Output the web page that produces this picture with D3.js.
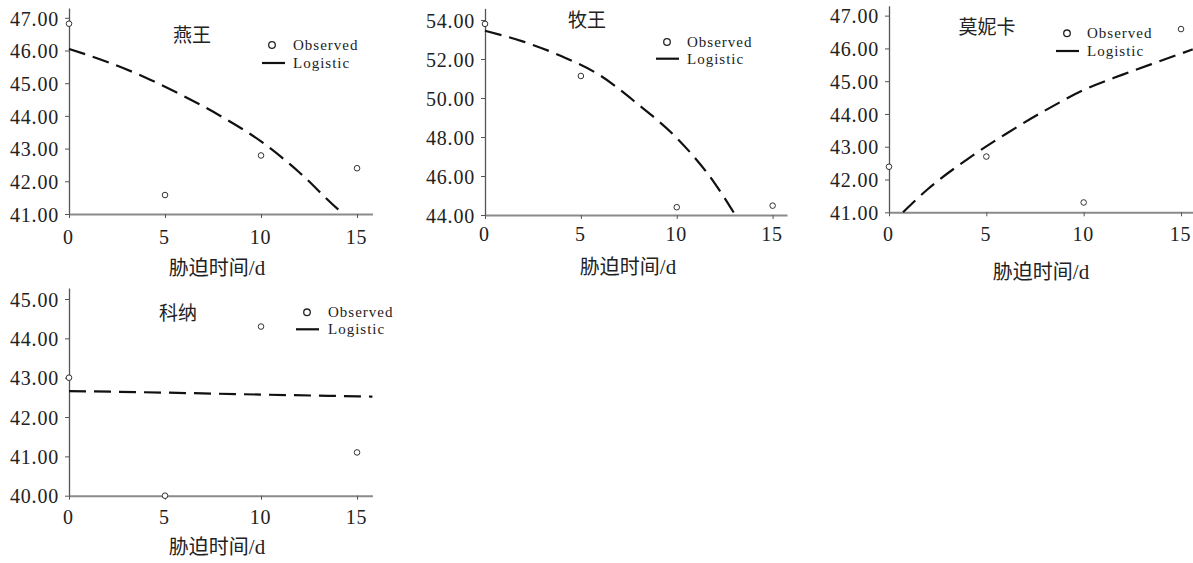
<!DOCTYPE html>
<html><head><meta charset="utf-8">
<script src="https://cdn.jsdelivr.net/npm/d3@7"></script>
<style>
html,body{margin:0;padding:0;background:#fff;}
svg{display:block;}
</style></head>
<body>
<svg id="c" width="1193" height="563"></svg>
<script>
// ---- data ----
const cultivars = ["燕王", "牧王", "莫妮卡", "科纳"];
const times = [0, 5, 10, 15];
const xTicks = [0, 5, 10, 15];
const observedYanwang = [46.82, 41.58, 42.79, 42.40];
const observedMuwang  = [53.80, 51.13, 44.40, 44.48];
const observedMonica  = [42.39, 42.70, 41.30, 46.59];
const observedKona    = [43.00, 40.00, 44.30, 41.10];
const fitYanwangT = [0, 2, 4, 6, 8, 10, 12, 14, 14.3];
const fitYanwang  = [46.05, 45.65, 45.17, 44.60, 43.96, 43.22, 42.27, 41.15, 41.00];
const fitMuwangT  = [0, 2, 4, 6, 8, 10, 12, 13.05];
const fitMuwang   = [53.45, 52.89, 52.14, 51.16, 49.66, 47.95, 45.60, 44.00];
const fitMonicaT  = [0.72, 2, 4, 6, 8, 10, 12, 14, 15.6];
const fitMonica   = [41.00, 41.71, 42.61, 43.39, 44.10, 44.73, 45.20, 45.63, 45.97];
const fitKonaT    = [0, 5, 10, 15.8];
const fitKona     = [42.66, 42.62, 42.57, 42.52];
const yTicksYanwang = [41, 42, 43, 44, 45, 46, 47];
const yTicksMuwang  = [44, 46, 48, 50, 52, 54];
const yTicksMonica  = [41, 42, 43, 44, 45, 46, 47];
const yTicksKona    = [40, 41, 42, 43, 44, 45];
const xTitleCJK = "胁迫时间";
const xTitleUnit = "/d";
const legendLabels = ["Observed", "Logistic"];

// ---- layout ----
const panels = [
  {name: cultivars[0], obs: observedYanwang, ft: fitYanwangT, fv: fitYanwang, yt: yTicksYanwang,
   xd: [0, 15.8], xr: [69, 372.4], yd: [41, 47.3], yr: [214, 8],
   title: [192, 35], xlab: 244, xtit: [217, 275], leg: {cx: 272, cy: 45, lx1: 262, lx2: 285, ly: 63, tx: 293}},
  {name: cultivars[1], obs: observedMuwang, ft: fitMuwangT, fv: fitMuwang, yt: yTicksMuwang,
   xd: [0, 15.75], xr: [485, 787], yd: [44, 54.6], yr: [215, 8.3],
   title: [587, 20], xlab: 241, xtit: [628, 274], leg: {cx: 667, cy: 42, lx1: 656, lx2: 679, ly: 58.7, tx: 687}},
  {name: cultivars[2], obs: observedMonica, ft: fitMonicaT, fv: fitMonica, yt: yTicksMonica,
   xd: [0, 15.6], xr: [889, 1192.7], yd: [41, 47.3], yr: [212.3, 5.8],
   title: [987, 27], xlab: 241, xtit: [1041, 279], leg: {cx: 1067, cy: 33.3, lx1: 1056, lx2: 1079, ly: 51, tx: 1087}},
  {name: cultivars[3], obs: observedKona, ft: fitKonaT, fv: fitKona, yt: yTicksKona,
   xd: [0, 15.8], xr: [69, 372.4], yd: [40, 45.28], yr: [495.7, 288],
   title: [178, 313], xlab: 524, xtit: [217, 554], leg: {cx: 307, cy: 312.3, lx1: 296, lx2: 319, ly: 329.3, tx: 328}}
];

const serif = "'Liberation Serif','Times New Roman',serif";
const svg = d3.select("#c");

panels.forEach(p => {
  const x = d3.scaleLinear().domain(p.xd).range(p.xr);
  const y = d3.scaleLinear().domain(p.yd).range(p.yr);
  const g = svg.append("g");

  // y axis
  const ya = g.append("g").attr("transform", `translate(${p.xr[0]},0)`)
    .call(d3.axisLeft(y).tickValues(p.yt).tickFormat(d3.format(".2f")).tickSize(4).tickSizeOuter(0).tickPadding(6));
  ya.attr("font-family", null).attr("font-size", null);
  ya.select(".domain").attr("stroke", "#555").attr("stroke-width", 1.3);
  ya.selectAll(".tick line").attr("stroke", "#555");
  ya.selectAll(".tick text").attr("dy", "0.36em")
    .style("font-family", serif).style("font-size", "20px").style("letter-spacing", "0.8px").attr("fill", "#222");

  // x axis
  const xa = g.append("g").attr("transform", `translate(0,${p.yr[0]})`)
    .call(d3.axisBottom(x).tickValues(xTicks).tickFormat(d3.format("d")).tickSize(4).tickSizeOuter(0).tickPadding(8));
  xa.attr("font-family", null).attr("font-size", null);
  xa.select(".domain").attr("stroke", "#8a8a8a").attr("stroke-width", 2);
  xa.selectAll(".tick line").attr("stroke", "#555");
  xa.selectAll(".tick text").attr("y", null).attr("dy", null)
    .attr("transform", `translate(-1,${p.xlab - p.yr[0]})`)
    .style("font-family", serif).style("font-size", "20px").style("letter-spacing", "0.8px").attr("fill", "#222");

  // x title
  const xt = g.append("text").attr("x", p.xtit[0]).attr("y", p.xtit[1]).attr("text-anchor", "middle")
    .attr("fill", "#222");
  xt.append("tspan").style("font-family", "'Noto Sans CJK SC',sans-serif").style("font-size", "20px").text(xTitleCJK);
  xt.append("tspan").style("font-family", serif).style("font-size", "21px").text(xTitleUnit);

  // panel title
  g.append("text").attr("x", p.title[0]).attr("y", p.title[1]).attr("dy", "0.36em").attr("text-anchor", "middle")
    .style("font-family", "'Noto Sans CJK SC',sans-serif").style("font-size", "19px").attr("fill", "#222")
    .text(p.name);

  // fitted curve
  const pts = p.ft.map((t, i) => [t, p.fv[i]]);
  g.append("path").datum(pts)
    .attr("d", d3.line().x(d => x(d[0])).y(d => y(d[1])).curve(d3.curveMonotoneX))
    .attr("fill", "none").attr("stroke", "#111").attr("stroke-width", 2.2)
    .attr("stroke-dasharray", "17,8");

  // observed
  g.selectAll("circle.obs").data(times.map((t, i) => [t, p.obs[i]])).enter()
    .append("circle").attr("class", "obs")
    .attr("cx", d => x(d[0])).attr("cy", d => y(d[1])).attr("r", 2.8)
    .attr("fill", "#fff").attr("stroke", "#333").attr("stroke-width", 1);

  // legend
  const L = p.leg;
  g.append("circle").attr("cx", L.cx).attr("cy", L.cy).attr("r", 3.3)
    .attr("fill", "#fff").attr("stroke", "#222").attr("stroke-width", 1.3);
  g.append("line").attr("x1", L.lx1).attr("x2", L.lx2).attr("y1", L.ly).attr("y2", L.ly)
    .attr("stroke", "#111").attr("stroke-width", 2.2);
  [L.cy, L.ly].forEach((yy, i) => {
    g.append("text").attr("x", L.tx).attr("y", yy).attr("dy", "0.33em")
      .style("font-family", serif).style("font-size", "15px")
      .style("letter-spacing", "1px").attr("fill", "#222").text(legendLabels[i]);
  });
});
</script>
</body></html>
